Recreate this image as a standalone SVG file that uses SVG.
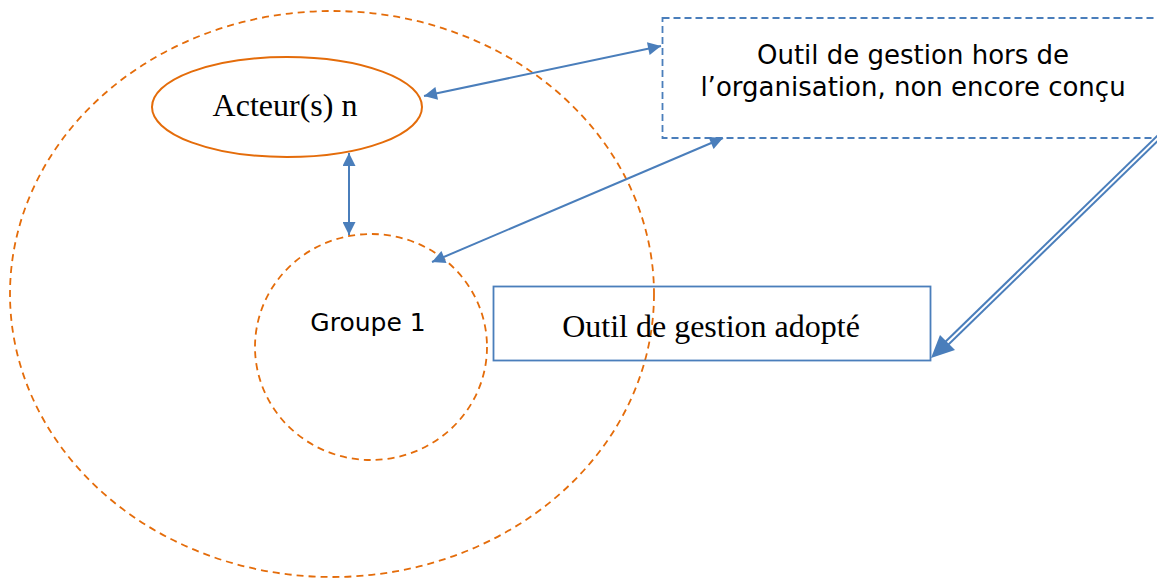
<svg xmlns="http://www.w3.org/2000/svg" width="1157" height="579" viewBox="0 0 1157 579">
<defs>
<style>
.dashO{fill:none;stroke:#E46C0A;stroke-width:1.8;stroke-dasharray:7 5}
.solidO{fill:#fff;stroke:#E46C0A;stroke-width:2}
.boxB{fill:none;stroke:#4A7EBB;stroke-width:1.8}
.dashB{fill:#fff;stroke:#4A7EBB;stroke-width:1.8;stroke-dasharray:7 4}
.conn{fill:none;stroke:#4A7EBB;stroke-width:2;marker-start:url(#ah);marker-end:url(#ah)}
.serif{font-family:"Liberation Serif","Times New Roman",serif;fill:#000}
.sans{font-family:"DejaVu Sans","Noto Sans",sans-serif;fill:#000}
</style>
<marker id="ah" viewBox="0 0 10 10" refX="10" refY="5" markerWidth="14" markerHeight="13" markerUnits="userSpaceOnUse" orient="auto-start-reverse">
<path d="M0,0 L10,5 L0,10 z" fill="#4A7EBB"/>
</marker>
</defs>
<rect width="1157" height="579" fill="#fff"/>
<g id="outer">
<ellipse class="dashO" cx="332" cy="294" rx="322" ry="283"/>
</g>
<g id="groupe1">
<ellipse class="dashO" cx="371" cy="347" rx="116" ry="113"/>
<text class="sans" x="368" y="331" font-size="25" text-anchor="middle">Groupe 1</text>
</g>
<g id="acteur">
<ellipse class="solidO" cx="287" cy="107" rx="135" ry="50"/>
<text class="serif" x="285" y="116" font-size="32" text-anchor="middle">Acteur(s) n</text>
</g>
<g id="outil-hors">
<rect class="dashB" x="662.5" y="18" width="520" height="120"/>
<text class="sans" x="913" y="64" font-size="26" text-anchor="middle">Outil de gestion hors de</text>
<text class="sans" x="913" y="96" font-size="26" text-anchor="middle">l’organisation, non encore conçu</text>
</g>
<g id="outil-adopte">
<rect class="boxB" x="493.5" y="286.5" width="437" height="74"/>
<text class="serif" x="711" y="337" font-size="32" text-anchor="middle">Outil de gestion adopté</text>
</g>
<g id="connectors">
<line class="conn" x1="424" y1="96" x2="661" y2="46"/>
<line class="conn" x1="349" y1="153" x2="349" y2="235"/>
<line class="conn" x1="432" y1="262" x2="723" y2="138"/>
<line x1="1160" y1="136" x2="945" y2="345" stroke="#4A7EBB" stroke-width="6"/>
<line x1="1162" y1="134" x2="944" y2="346" stroke="#fff" stroke-width="2"/>
<polygon points="931,358 940,335 955,350" fill="#4A7EBB"/>
</g>
</svg>
